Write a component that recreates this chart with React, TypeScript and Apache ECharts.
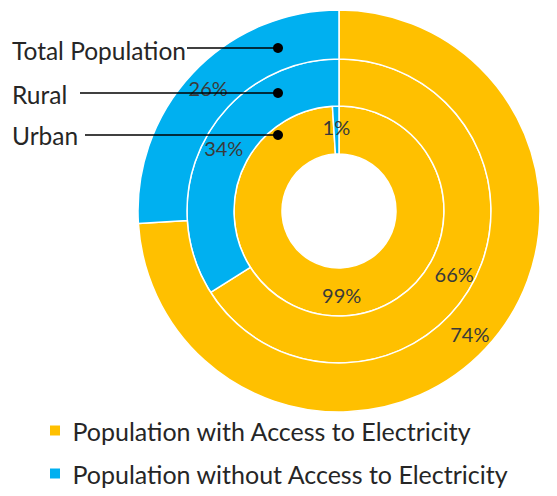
import React, { useEffect, useRef } from "react";
import * as echarts from "echarts";

const categories = ["Population with Access to Electricity", "Population without Access to Electricity"];
const ringNames = ["Urban", "Rural", "Total Population"];
const urbanValues = [99, 1];
const ruralValues = [66, 34];
const totalValues = [74, 26];
const colors = ["#FFC000", "#00B0F0"];

const FONT = "Lato";

export default function App() {
  const ref = useRef<HTMLDivElement>(null);
  useEffect(() => {
    if (!ref.current) return;
    const chart = echarts.init(ref.current, null, { renderer: "svg" });
    const cx = 339;
    const cy = 211;
    const rings = [
      { name: ringNames[0], values: urbanValues, r: [57, 105] },
      { name: ringNames[1], values: ruralValues, r: [105, 152] },
      { name: ringNames[2], values: totalValues, r: [152, 201] },
    ];
    const series = rings.map((ring) => ({
      type: "pie",
      name: ring.name,
      center: [cx, cy],
      radius: ring.r,
      startAngle: 90,
      clockwise: true,
      avoidLabelOverlap: false,
      silent: true,
      itemStyle: { borderColor: "#ffffff", borderWidth: 1.5 },
      label: {
        show: true,
        position: "inside",
        formatter: "{c}%",
        color: "#3a3a3a",
        fontFamily: FONT,
        fontSize: 20,
      },
      labelLine: { show: false },
      data: ring.values.map((v, i) => ({ name: categories[i], value: v, itemStyle: { color: colors[i] } })),
    }));
    const annotY = [48, 93, 135];
    const annotTextY = [52, 96, 137];
    const lineStartX = [187, 80, 85];
    const dotX = 278;
    const graphics: any[] = [];
    const labelsTopDown = [ringNames[2], ringNames[1], ringNames[0]];
    labelsTopDown.forEach((name, i) => {
      graphics.push({
        type: "text",
        left: 12,
        top: annotTextY[i] - 14,
        z: 100,
        style: { text: name, fill: "#262626", font: `24.5px ${FONT}` },
      });
      graphics.push({
        type: "line",
        z: 100,
        shape: { x1: lineStartX[i], y1: annotY[i], x2: dotX, y2: annotY[i] },
        style: { stroke: "#000000", lineWidth: 1.3 },
      });
      graphics.push({
        type: "circle",
        z: 100,
        shape: { cx: dotX, cy: annotY[i], r: 5 },
        style: { fill: "#000000" },
      });
    });
    chart.setOption({
      animation: false,
      color: colors,
      legend: {
        orient: "vertical",
        left: 48,
        top: 418,
        padding: 0,
        icon: "rect",
        itemWidth: 12,
        itemHeight: 12,
        itemGap: 18,
        formatter: " {name}",
        data: categories,
        textStyle: { fontFamily: FONT, fontSize: 25, color: "#262626" },
      },
      graphic: graphics,
      series,
    });
    return () => chart.dispose();
  }, []);
  return <div ref={ref} style={{ width: 557, height: 496, position: "absolute", left: 0, top: 0 }} />;
}
